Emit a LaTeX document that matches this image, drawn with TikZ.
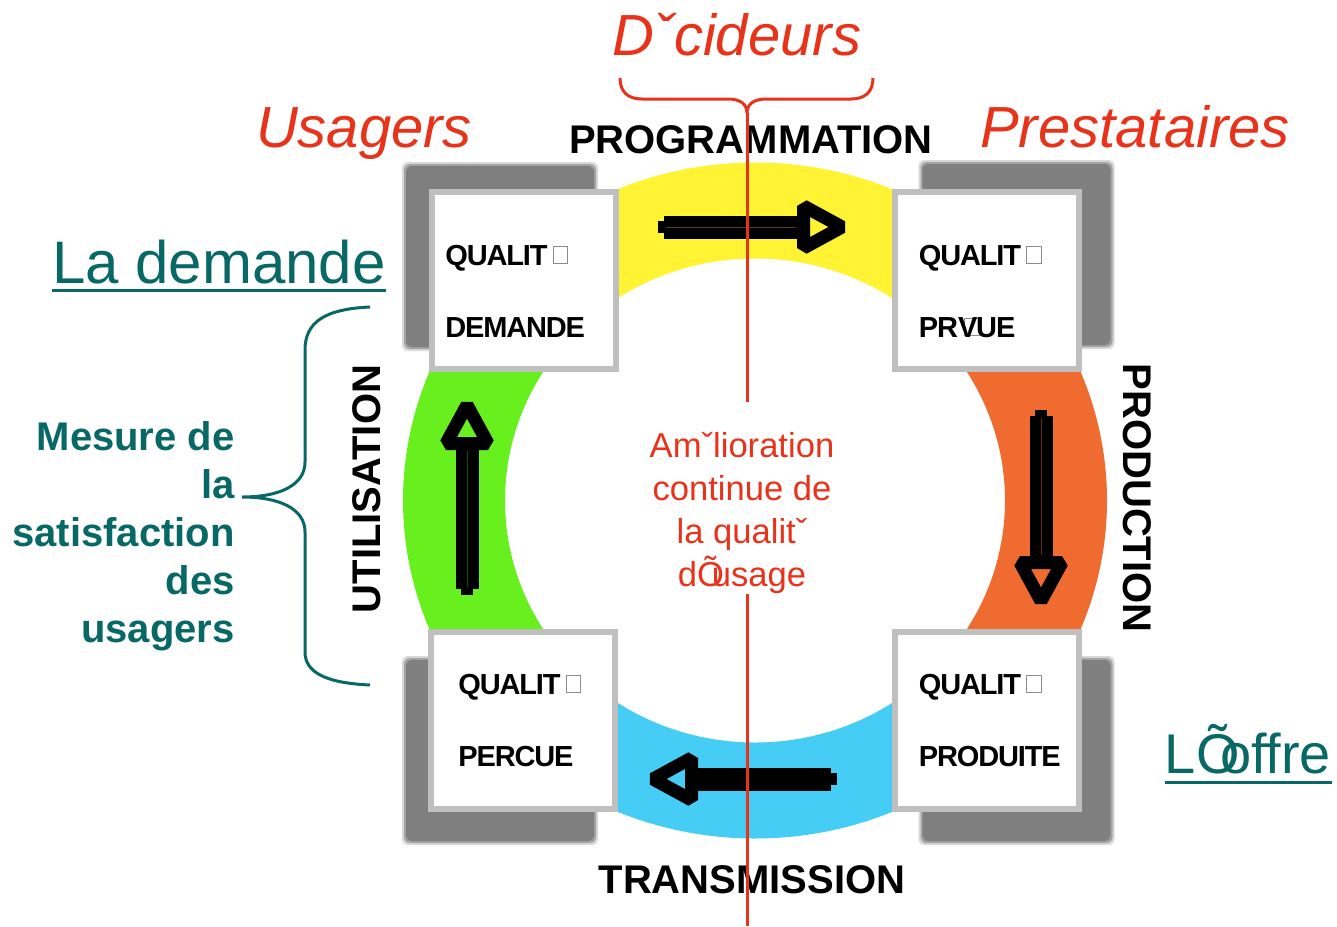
\documentclass[tikz,border=0pt]{standalone}
\usepackage{fontspec}
\setmainfont{Liberation Sans}
\usetikzlibrary{
  calc,         % Calculations $...$
  backgrounds,  % Predefined layer named "background"
}
\definecolor{ringyellow}{RGB}{255,243,51}
\definecolor{ringorange}{RGB}{239,107,48}
\definecolor{ringblue}{RGB}{69,205,246}
\definecolor{ringgreen}{RGB}{104,240,30}
\definecolor{boxgray}{RGB}{191,191,191}
\definecolor{shadowgray}{RGB}{127,127,127}
\definecolor{tred}{RGB}{232,51,26}
\definecolor{tteal}{RGB}{8,104,102}
% missing glyph, as printed
\newcommand{\nogbox}{\textcolor{black!45}{\setlength{\fboxsep}{0pt}\setlength{\fboxrule}{0.4pt}%
  \raisebox{1pt}{\fbox{\rule{0pt}{8pt}\hspace{7pt}}}}}
\newcommand{\nog}{\hspace{2.5pt}\nogbox}
% quarter of the ring (canvas angles)
\newcommand{\ringpart}[3]{%
  \fill[#1] ($(c)+(#2:176pt and 169pt)$) arc[start angle=#2, end angle=#3, x radius=176pt, y radius=169pt]
    -- ($(c)+(#3:125pt and 121pt)$) arc[start angle=#3, end angle=#2, x radius=125pt, y radius=121pt] -- cycle;}
% fat arrow with hollow head: tail, rotation, length, colour of the thin middle line
\newcommand{\ringarrow}[4]{%
  \begin{scope}[shift={#1},rotate=#2]
    \fill (0,-6) rectangle (8,6);
    \fill (6,-11.5) rectangle (#3-50,11.5);
    \draw[line width=6.5pt,line join=bevel] (#3-44.5,-21) -- (#3-6,0) -- (#3-44.5,21) -- cycle;
    \draw[#4,line width=0.4pt] (8,0) -- (#3-52,0);
  \end{scope}}
\tikzset{
  qbox/.style={
    draw=boxgray,
    fill=white,
    line width=3pt,
    minimum width=92pt,
    minimum height=88.5pt,
    inner sep=0pt
  },
  qtext/.style={
    anchor=base west,
    inner sep=0pt,
    font=\fontsize{14.5}{17}\selectfont\bfseries\addfontfeature{LetterSpace=-4}
  },
  redtitle/.style={
    anchor=base,
    inner sep=0pt,
    text=tred,
    font=\fontsize{29}{34}\selectfont\itshape
  },
  stage/.style={
    anchor=base,
    inner sep=0pt,
    font=\fontsize{20}{24}\selectfont\bfseries
  },
  teallink/.style={
    anchor=base,
    inner sep=0pt,
    text=tteal
  },
  rline/.style={
    draw=tred,
    line width=1.5pt
  },
  tbrace/.style={
    draw=tteal,
    line width=1.5pt
  }
}
\begin{document}
\begin{tikzpicture}[x=0.5pt,y=-0.5pt]
\useasboundingbox (0,0) rectangle (1337,926);
\coordinate (c) at (755,500.5);
% the four quality boxes
\node[qbox] (dem)  at (524,280.5)   {};
\node[qbox] (prev) at (986.5,280.5) {};
\node[qbox] (perc) at (523,720.5)   {};
\node[qbox] (prod) at (986.5,720.5) {};
\foreach \b/\dx/\dy/\ta/\tb in {dem/16/76/{QUALIT\nog}/DEMANDE,
    prev/27/76/{QUALIT\nog}/{PR\rlap{\kern3pt\nogbox}VUE},
    perc/30/65/{QUALIT\nog}/PERCUE,
    prod/27/65/{QUALIT\nog}/PRODUITE} {
  \node[qtext] (\b-a) at ($(\b.north west)+(\dx,\dy)$)    {\ta};
  \node[qtext] (\b-b) at ($(\b.north west)+(\dx,\dy+72)$) {\tb};
}
\begin{scope}[on background layer]
  \foreach \b/\dx/\dy in {dem/-24/-24,prev/30/-26,perc/-23/30,prod/30/30}
    \foreach \e/\o in {3/0.3,1/0.6,-1/1}
      \fill[shadowgray,opacity=\o,rounded corners=3pt]
        ($(\b.north west)+(\dx-\e,\dy-\e)$) rectangle ($(\b.south east)+(\dx+\e,\dy+\e)$);
  \ringpart{ringyellow}{45}{135}
  \ringpart{ringgreen}{135}{225}
  \ringpart{ringblue}{225}{315}
  \ringpart{ringorange}{-45}{45}
\end{scope}
\ringarrow{(658,227)}{0}{190}{black!70!ringyellow}
\ringarrow{(1041,410)}{-90}{197}{black!60!ringorange}
\ringarrow{(837,779)}{180}{190}{black}
\ringarrow{(467,595)}{90}{196}{black!70!ringgreen}
% titles
\node[redtitle] (dec) at (737,55)   {Dˇcideurs};
\node[redtitle] (usa) at (364,147)  {Usagers};
\node[redtitle] (pre) at (1135,147) {Prestataires};
\node[stage] (progr) at (751,153) {PROGRAMMATION};
\node[stage] (trans) at (752,893) {TRANSMISSION};
\node[stage,rotate=-90,anchor=center] (produc) at (1137,498) {PRODUCTION};
\node[stage,rotate=90,anchor=center]  (utili)  at (367,489)  {UTILISATION};
\node[teallink,font=\fontsize{30}{36}\selectfont] (lad)  at (219,283)  {La demande};
\node[teallink,font=\fontsize{28}{34}\selectfont] (loff) at (1248,773) {L\rlap{Õ}\kern12pt offre};
\draw[tteal,line width=1.5pt] ([yshift=-3.5pt]lad.base west) -- ([yshift=-3.5pt]lad.base east);
\draw[tteal,line width=1.5pt] ([yshift=-4.5pt]loff.base west) -- ([yshift=-4.5pt]loff.base east);
\node[anchor=north east,align=right,inner sep=0pt,text=tteal,
      font=\fontsize{20}{24}\selectfont\bfseries] (mes) at (235,421)
  {Mesure de\\la\\satisfaction\hspace*{3pt}\\des\\usagers};
\node[anchor=north,align=center,inner sep=0pt,text=tred,
      font=\fontsize{17.3}{21.5}\selectfont] (amel) at (742,432)
  {Amˇlioration\\continue de\\la qualitˇ\\d\rlap{Õ}\hspace{0.42em}usage};
% braces
\draw[tbrace] (370,307) .. controls (325,309) and (305,322) .. (305,350) -- (305,462)
  .. controls (305,485) and (280,497) .. (242,497)
  .. controls (280,497) and (305,509) .. (305,532) -- (305,652)
  .. controls (305,672) and (325,683) .. (370,685);
\coordinate (cusp) at (747,113);
\coordinate (foot) at (747,926);
\draw[rline] (620,78) .. controls (620,92) and (628,99) .. (642,99) -- (728,99)
  .. controls (740,99) and (747,104) .. (cusp);
\draw[rline] (873,78) .. controls (873,92) and (865,99) .. (851,99) -- (766,99)
  .. controls (754,99) and (747,104) .. (cusp);
\draw[rline] (cusp) -- ($(cusp |- amel.north)+(0,-30)$);
\draw[rline] (cusp |- amel.south) -- (foot);
\end{tikzpicture}
\end{document}
